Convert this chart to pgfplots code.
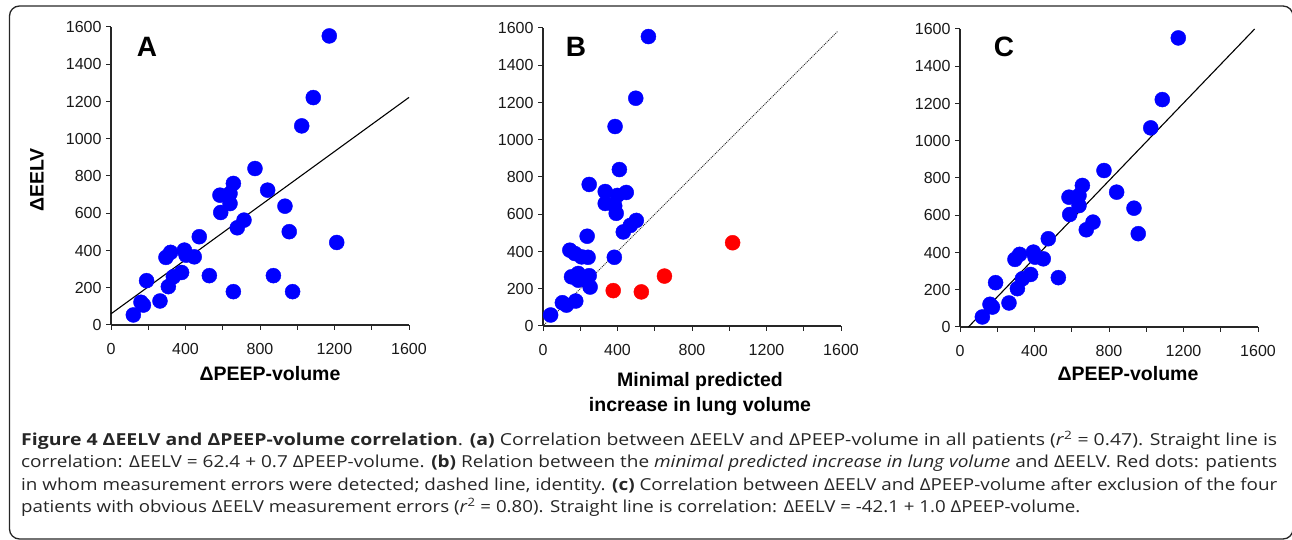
\documentclass[border=0pt]{standalone}
\usepackage{pgfplots}
\pgfplotsset{compat=1.18}
\usepackage{fontspec}
\usepackage{graphicx}
\setmainfont{Liberation Sans}
\newfontfamily\capfont{Open Sans}

\definecolor{ptblue}{RGB}{0,0,255}
\definecolor{ptred}{RGB}{255,0,0}

% all patients: dPEEP-volume vs dEELV
\pgfplotstableread{
x y
120 54
161 122
174 107
191 238
263 129
308 206
295 363
320 390
335 259
379 282
394 402
403 375
447 366
474 474
528 265
589 604
585 697
639 706
639 652
657 760
678 522
714 563
773 840
841 724
934 638
957 501
1024 1069
1086 1221
1172 1552
}\good
\pgfplotstableread{
x y
657 179
872 265
975 179
1212 443
}\bad
% minimal predicted increase vs dEELV
\pgfplotstableread{
x y
41 59
104 125
126 112
176 134
153 264
189 282
189 246
248 270
253 209
144 407
171 389
207 371
242 369
237 482
248 760
334 722
334 658
399 701
447 717
385 645
393 605
383 369
410 840
431 505
469 540
501 567
387 1071
498 1223
566 1554
}\predgood
\pgfplotstableread{
x y
377 190
528 183
652 268
1018 447
}\predbad

\pgfplotsset{
  panel/.style={
    width=298pt, height=298pt, scale only axis,
    xmin=0, xmax=1600, ymin=0, ymax=1600,
    axis lines=left,
    axis line style={-, line width=1.3pt, black!85},
    xtick={0,400,...,1600}, ytick={0,200,...,1600},
    minor xtick={200,600,1000,1400},
    tick align=outside,
    major tick length=5pt, minor tick length=5pt,
    every tick/.style={line width=1pt, black!85},
    ticklabel style={font=\fontsize{16}{16}\selectfont, text=black!90},
    xticklabel style={yshift=-10pt},
    yticklabel style={xshift=-1pt},
    /pgf/number format/assume math mode=true,
    /pgf/number format/1000 sep={},
    clip=false,
  },
  dots/.style={only marks, mark=*, mark size=7.5pt},
}

\newcommand\capline[2]{\resizebox{#1}{\height}{#2}}

\begin{document}
\begin{tikzpicture}[x=1pt, y=1pt]
\useasboundingbox (0,0) rectangle (1292,540);
\draw[line width=1.3pt, black!85, rounded corners=10pt] (9.5,1) rectangle (1293,534);

% A
\begin{axis}[panel, at={(111pt,215pt)}, anchor=south west]
\addplot[black, line width=1.1pt] coordinates {(0,60) (1600,1222)};
\addplot[dots, ptblue] table {\good};
\addplot[dots, ptblue] table {\bad};
\end{axis}

% B
\begin{axis}[panel, at={(543pt,214pt)}, anchor=south west]
\addplot[black!80, line width=1pt, densely dotted] coordinates {(5,5) (1582,1582)};
\addplot[dots, ptblue] table {\predgood};
\addplot[dots, ptred] table {\predbad};
\end{axis}

% C
\begin{axis}[panel, at={(960pt,213pt)}, anchor=south west]
\addplot[black, line width=1.1pt] coordinates {(45,0) (1582,1600)};
\addplot[dots, ptblue] table {\good};
\end{axis}

\begin{scope}[every node/.style={font=\bfseries\fontsize{19.5}{21}\selectfont, inner sep=0pt}]
\node[rotate=90, anchor=center] at (37,360) {ΔEELV};
\node[anchor=base] at (270,159) {ΔPEEP-volume};
\node[anchor=base] at (700,153) {Minimal predicted};
\node[anchor=base] at (700,128) {increase in lung volume};
\node[anchor=base] at (1128,159) {ΔPEEP-volume};
\end{scope}

\begin{scope}[every node/.style={font=\bfseries\fontsize{28}{30}\selectfont, inner sep=0pt, anchor=base}]
\node at (147,483) {A};
\node at (576,483) {B};
\node at (1004,483) {C};
\end{scope}

\begin{scope}[every node/.style={font=\capfont\fontsize{16.5}{18}\selectfont, inner sep=0pt, anchor=base west, text=black!85}]
\node at (21,94) {\capline{1256pt}{\textbf{Figure 4 ΔEELV and ΔPEEP-volume correlation}. \textbf{(a)} Correlation between ΔEELV and ΔPEEP-volume in all patients (\textit{r}\textsuperscript{2} = 0.47). Straight line is}};
\node at (21,72) {\capline{1256pt}{correlation: ΔEELV = 62.4 + 0.7 ΔPEEP-volume. \textbf{(b)} Relation between the \textit{minimal predicted increase in lung volume} and ΔEELV. Red dots: patients}};
\node at (21,49) {\capline{1256pt}{in whom measurement errors were detected; dashed line, identity. \textbf{(c)} Correlation between ΔEELV and ΔPEEP-volume after exclusion of the four}};
\node at (21,27) {\capline{1059pt}{patients with obvious ΔEELV measurement errors (\textit{r}\textsuperscript{2} = 0.80). Straight line is correlation: ΔEELV = -42.1 + 1.0 ΔPEEP-volume.}};
\end{scope}
\end{tikzpicture}
\end{document}
